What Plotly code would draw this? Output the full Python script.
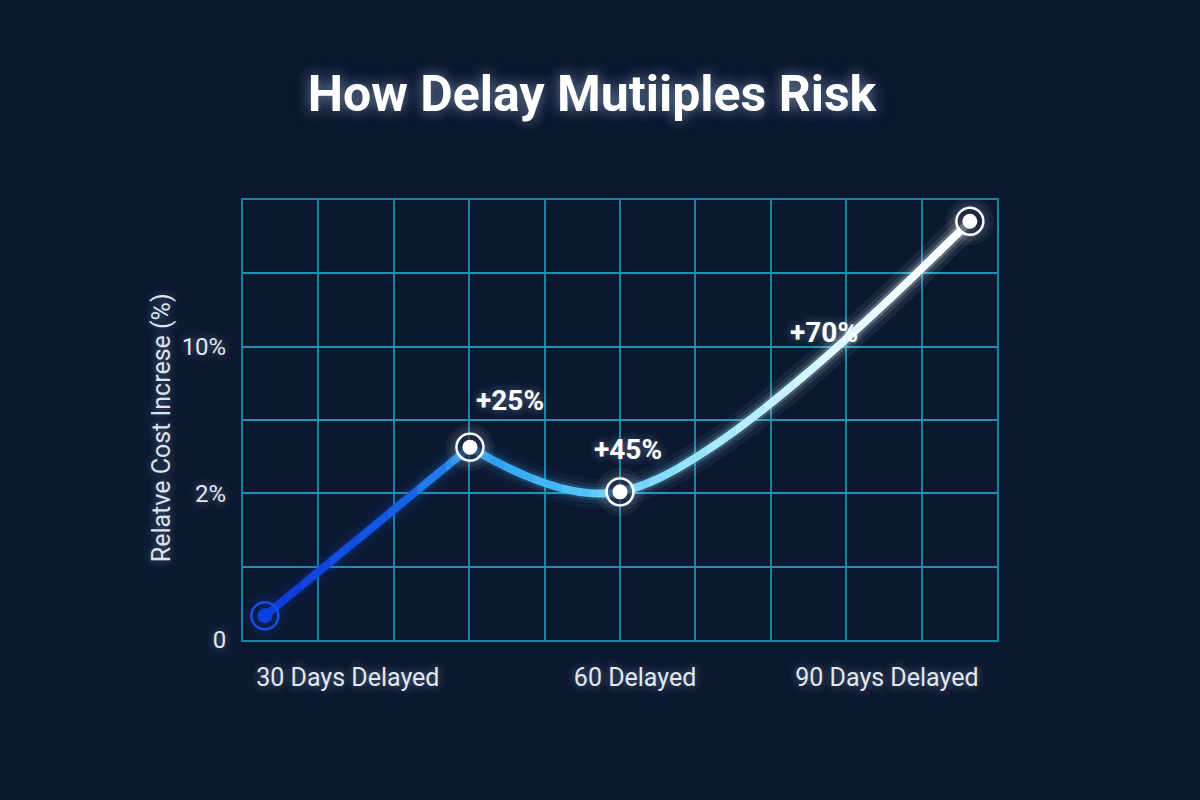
import plotly.graph_objects as go

# ---------------- data ----------------
point_x = [0.29, 3.01, 5.0, 9.64]
point_y = [0.33, 2.63, 2.02, 5.71]

x_tick_vals = [1.39, 5.2, 8.54]
x_tick_text = ["30 Days Delayed", "60 Delayed", "90 Days Delayed"]
y_tick_vals = [0, 2, 4]
y_tick_text = ["0", "2%", "10%"]

label_text = ["+25%", "+45%", "+70%"]
label_x = [3.54, 5.11, 7.71]
label_y = [3.27, 2.60, 4.20]

X_RANGE = [0, 10]
Y_RANGE = [0, 6]

BG = "#0b1830"
GRID = "rgba(30,150,185,0.85)"

# gradient stops along x (data units) -> rgb
grad_stops = [
    (0.29, (12, 55, 218)),
    (2.08, (22, 95, 230)),
    (3.01, (46, 152, 238)),
    (4.0, (66, 182, 243)),
    (5.0, (104, 208, 248)),
    (6.06, (154, 230, 252)),
    (7.39, (208, 245, 255)),
    (8.71, (242, 252, 255)),
    (9.64, (255, 255, 255)),
]


def grad_color(x, alpha=1.0):
    if x <= grad_stops[0][0]:
        c = grad_stops[0][1]
    elif x >= grad_stops[-1][0]:
        c = grad_stops[-1][1]
    else:
        for (x0, c0), (x1, c1) in zip(grad_stops[:-1], grad_stops[1:]):
            if x0 <= x <= x1:
                t = (x - x0) / (x1 - x0)
                c = tuple(round(a + (b - a) * t) for a, b in zip(c0, c1))
                break
    return f"rgba({c[0]},{c[1]},{c[2]},{alpha})"


fig = go.Figure()

N = 26  # plot width 754 px -> 29 px slices, whole pixels (no seams)
span = X_RANGE[1] - X_RANGE[0]
segments = [(0, 2), (1, 4)]  # index ranges into the data: corner at the second point
layers = [(30, 0.05), (20, 0.09), (13, 0.16), (8, 1.0)]

layout_axes = {}
for i in range(N):
    ax_id = i + 2
    a = X_RANGE[0] + span * i / N
    b = X_RANGE[0] + span * (i + 1) / N
    layout_axes[f"xaxis{ax_id}"] = dict(
        domain=[i / N, (i + 1) / N], range=[a, b], anchor="y",
        visible=False, fixedrange=True,
    )
    xmid = (a + b) / 2
    for s0, s1 in segments:
        xs = point_x[s0:s1]
        ys = point_y[s0:s1]
        if max(xs) < a - 0.3 or min(xs) > b + 0.3:
            continue
        for w, op in layers:
            glow_op = op
            if op < 1.0:
                # glow gets stronger toward the bright end
                glow_op = op * (0.6 + 0.8 * (xmid / span))
            fig.add_trace(go.Scatter(
                x=xs, y=ys, xaxis=f"x{ax_id}", yaxis="y", mode="lines",
                line=dict(color=grad_color(xmid, round(glow_op, 3)), width=w, shape="spline", smoothing=1.0),
                hoverinfo="skip", showlegend=False,
            ))
    # markers, drawn per slice so they stay above the line
    near = [k for k in range(len(point_x)) if a - 0.5 <= point_x[k] <= b + 0.5]
    if near:
        mx = [point_x[k] for k in near]
        my = [point_y[k] for k in near]
        first = [k == 0 for k in near]
        common = dict(xaxis=f"x{ax_id}", yaxis="y", mode="markers", hoverinfo="skip", showlegend=False)
        for sz, al in [(48, 0.05), (40, 0.06), (32, 0.08)]:
            col = [f"rgba(30,80,240,{al * 0.6})" if f else f"rgba(255,255,255,{al})" for f in first]
            fig.add_trace(go.Scatter(x=mx, y=my, marker=dict(size=sz, color=col, line=dict(width=0)), **common))
        gap_col = ["rgba(11,24,48,0.0)" if f else "rgba(11,24,48,0.6)" for f in first]
        ring_col = ["#1a4ee8" if f else "#ffffff" for f in first]
        dot_col = ["#0b3ee0" if f else "#ffffff" for f in first]
        fig.add_trace(go.Scatter(x=mx, y=my, marker=dict(size=24, color=gap_col, line=dict(width=0)), **common))
        fig.add_trace(go.Scatter(x=mx, y=my, marker=dict(size=27, symbol="circle-open", color=ring_col,
                                                         line=dict(width=2.4)), **common))
        fig.add_trace(go.Scatter(x=mx, y=my, marker=dict(size=15, color=dot_col, line=dict(width=0)), **common))

glow = "0px 0px 10px rgba(200,225,255,0.45)"

annotations = [
    dict(x=lx, y=ly, xref="x", yref="y", text=t, showarrow=False,
         font=dict(family="Roboto", size=28, color="#ffffff", weight=700, shadow=glow),
         xanchor="center", yanchor="middle")
    for t, lx, ly in zip(label_text, label_x, label_y)
]
annotations.append(dict(
    x=-0.107, y=0.482, xref="paper", yref="paper", text="Relatve Cost Increse (%)",
    textangle=-90, showarrow=False, xanchor="center", yanchor="middle",
    font=dict(family="Roboto", size=25, color="#dde4ee", shadow=glow),
))

fig.update_layout(
    width=1200, height=800,
    margin=dict(l=243, r=203, t=200, b=160),
    paper_bgcolor=BG, plot_bgcolor="rgba(0,0,0,0)",
    showlegend=False,
    title=dict(text="<b>How Delay Mutiiples Risk</b>", x=592 / 1200, xref="container", xanchor="center",
               y=1 - 93 / 800, yref="container", yanchor="middle",
               font=dict(family="Roboto", size=50, color="#ffffff",
                         shadow="0px 0px 14px rgba(200,225,255,0.55)")),
    xaxis=dict(range=X_RANGE, domain=[0, 1], anchor="y", fixedrange=True,
               tickmode="array", tickvals=x_tick_vals, ticktext=x_tick_text,
               ticks="outside", ticklen=14, tickcolor="rgba(0,0,0,0)",
               tickfont=dict(family="Roboto", size=25, color="#e2e8f0", shadow=glow),
               showgrid=False, zeroline=False,
               showline=True, mirror=True, linecolor=GRID, linewidth=2,
               minor=dict(tickmode="array", tickvals=list(range(0, 11)), showgrid=True,
                          gridcolor=GRID, gridwidth=1.5, ticks="")),
    yaxis=dict(range=Y_RANGE, anchor="x", fixedrange=True,
               tickmode="array", tickvals=y_tick_vals, ticktext=y_tick_text,
               ticks="outside", ticklen=10, tickcolor="rgba(0,0,0,0)",
               tickfont=dict(family="Roboto", size=24, color="#e2e8f0", shadow=glow),
               showgrid=False, zeroline=False,
               showline=True, mirror=True, linecolor=GRID, linewidth=2,
               minor=dict(tickmode="array", tickvals=list(range(0, 7)), showgrid=True,
                          gridcolor=GRID, gridwidth=1.5, ticks="")),
    annotations=annotations,
    **layout_axes,
)

fig.write_html("out.html")
